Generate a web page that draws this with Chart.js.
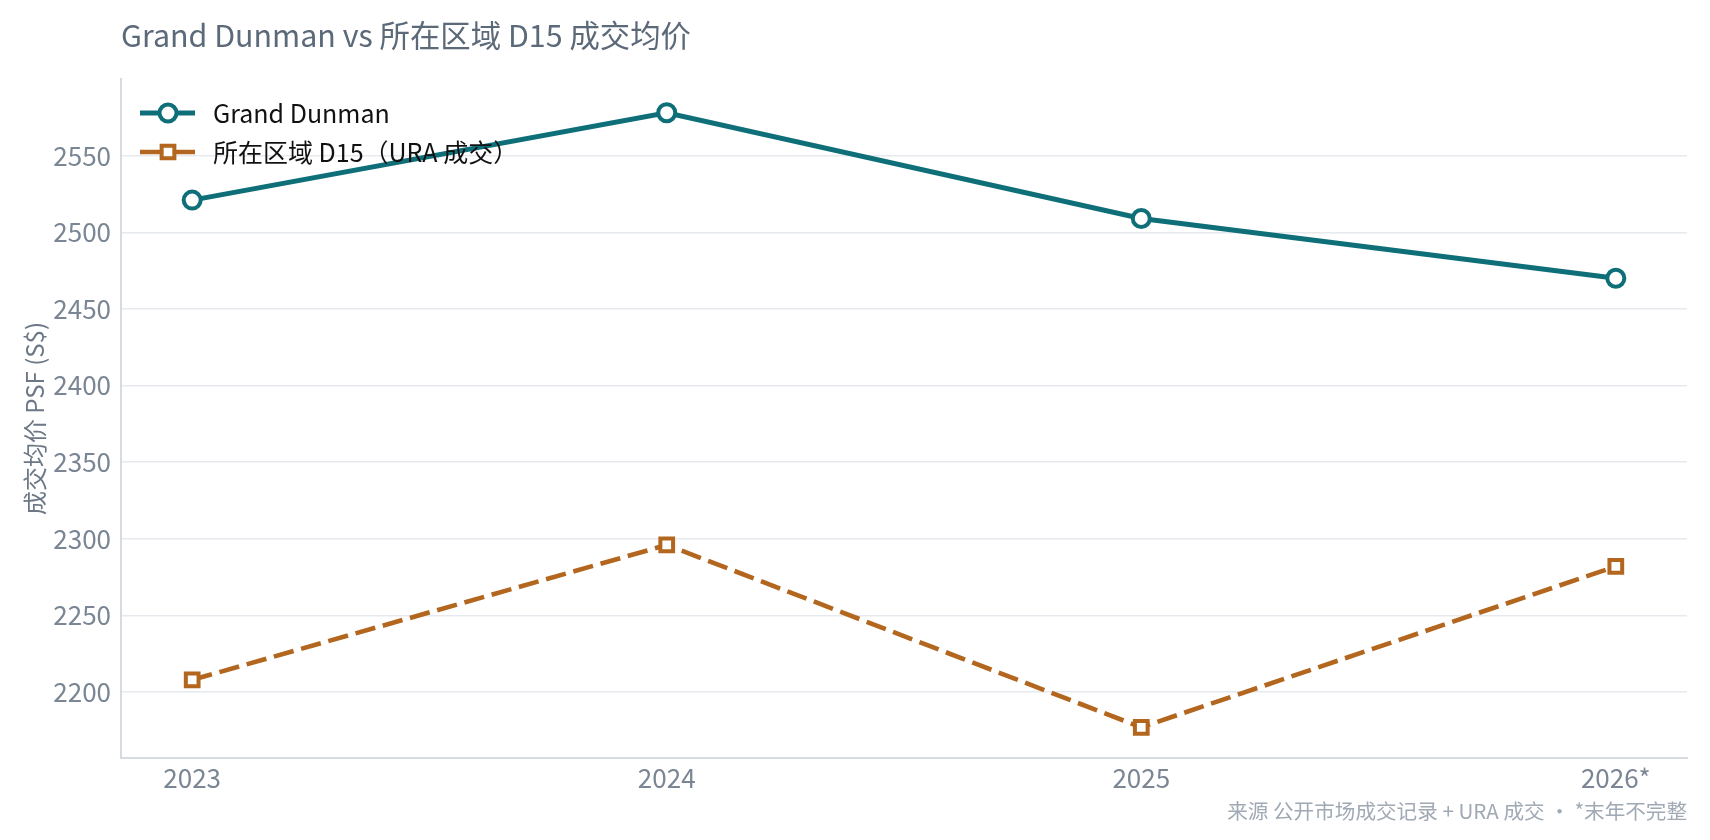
<!DOCTYPE html>
<html>
<head>
<meta charset="utf-8">
<script src="https://cdn.jsdelivr.net/npm/chart.js@4/dist/chart.umd.min.js"></script>
<style>
  html, body { margin: 0; padding: 0; background: #fff; }
  #c { display: block; }
</style>
</head>
<body>
<canvas id="c" width="1710" height="840"></canvas>
<script>
// data
const years = ["2023", "2024", "2025", "2026*"];
const grandDunman = [2521, 2578, 2509, 2470];
const d15 = [2208, 2296, 2177, 2282];
const yTicks = [2200, 2250, 2300, 2350, 2400, 2450, 2500, 2550];

const FONT = "'Noto Sans CJK SC', 'Noto Sans', sans-serif";
const TEAL = "#0f6f78";
const ORANGE = "#b3661e";

// title, footer and in-plot legend
const decor = {
  id: "decor",
  afterDraw(chart) {
    const ctx = chart.ctx;
    const area = chart.chartArea;
    ctx.save();
    ctx.textBaseline = "middle";

    ctx.font = "30.4px " + FONT;
    ctx.fillStyle = "#5b6979";
    ctx.textAlign = "left";
    ctx.fillText("Grand Dunman vs 所在区域 D15 成交均价", area.left, 35);

    ctx.font = "20.6px " + FONT;
    ctx.fillStyle = "#a0a9b4";
    ctx.textAlign = "right";
    ctx.fillText("来源 公开市场成交记录 + URA 成交 · *末年不完整", area.right, 811);

    // legend
    const rows = [113, 152];
    chart.data.datasets.forEach((ds, i) => {
      const y = rows[i];
      ctx.beginPath();
      ctx.strokeStyle = ds.borderColor;
      ctx.lineWidth = ds.borderWidth;
      ctx.moveTo(140, y);
      ctx.lineTo(195, y);
      ctx.stroke();
      ctx.lineWidth = ds.pointBorderWidth;
      ctx.fillStyle = "#fff";
      ctx.beginPath();
      if (ds.pointStyle === "rect") {
        const s = ds.pointRadius * Math.SQRT1_2;
        ctx.rect(168 - s, y - s, 2 * s, 2 * s);
      } else {
        ctx.arc(168, y, ds.pointRadius, 0, Math.PI * 2);
      }
      ctx.fill();
      ctx.stroke();
      ctx.font = "25px " + FONT;
      ctx.fillStyle = "#111";
      ctx.textAlign = "left";
      ctx.fillText(ds.label, 213, y);
    });
    ctx.restore();
  }
};

new Chart(document.getElementById("c"), {
  type: "line",
  data: {
    datasets: [{
      label: "Grand Dunman",
      data: grandDunman.map((v, i) => ({ x: i, y: v })),
      borderColor: TEAL,
      borderWidth: 5,
      pointStyle: "circle",
      pointRadius: 8.5,
      pointBorderWidth: 4,
      pointBackgroundColor: "#fff",
      pointBorderColor: TEAL
    }, {
      label: "所在区域 D15（URA 成交）",
      data: d15.map((v, i) => ({ x: i, y: v })),
      borderColor: ORANGE,
      borderWidth: 4.6,
      borderDash: [20.5, 7.8],
      pointStyle: "rect",
      pointRadius: 9,
      pointBorderWidth: 4,
      pointBackgroundColor: "#fff",
      pointBorderColor: ORANGE
    }]
  },
  options: {
    responsive: false,
    animation: false,
    devicePixelRatio: 1,
    layout: { padding: { left: 0, top: 79, right: 23, bottom: 0 } },
    plugins: {
      legend: { display: false },
      title: { display: false },
      tooltip: { enabled: false }
    },
    scales: {
      x: {
        type: "linear",
        min: -0.15,
        max: 3.15,
        afterBuildTicks: s => { s.ticks = years.map((_, i) => ({ value: i })); },
        afterFit: s => { s.height = 82; },
        grid: { display: false, drawTicks: false },
        border: { display: true, color: "#d6dbe1", width: 2 },
        ticks: {
          callback: v => years[v],
          color: "#7b8694",
          font: { family: FONT, size: 26 },
          padding: 5,
          maxRotation: 0
        }
      },
      y: {
        min: 2157,
        max: 2600,
        afterBuildTicks: s => { s.ticks = yTicks.map(v => ({ value: v })); },
        afterFit: s => { s.width = 121; },
        grid: { color: "#e6e9ed", lineWidth: 1.5, drawTicks: false },
        border: { display: true, color: "#d6dbe1", width: 2 },
        ticks: {
          callback: v => String(v),
          color: "#7b8694",
          font: { family: FONT, size: 26 },
          padding: 10
        },
        title: {
          display: true,
          text: "成交均价 PSF (S$)",
          color: "#6c7886",
          font: { family: FONT, size: 24 },
          padding: { top: 20, bottom: 0 }
        }
      }
    }
  },
  plugins: [decor]
});
</script>
</body>
</html>
